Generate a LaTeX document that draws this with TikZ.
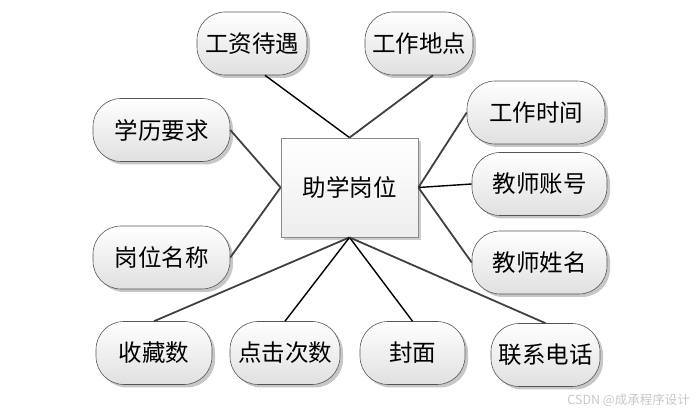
\documentclass[tikz,border=0pt]{standalone}
\usepackage{fontspec}
\setmainfont{Noto Sans CJK SC}
\usepackage{xcolor}
\definecolor{boxline}{HTML}{555555}
\definecolor{boxbot}{HTML}{E0E0E0}
\definecolor{rectline}{HTML}{8A8A8A}
\definecolor{linkgray}{HTML}{404040}
\definecolor{marktext}{HTML}{C8C8C8}
\usepackage{tikz}
\usetikzlibrary{
  shadows,
  calc,
}

\begin{document}
\begin{tikzpicture}[
  x=1pt, y=-1pt,
  attr/.style={
    draw=boxline,
    line width=0.6pt,
    top color=white,
    bottom color=boxbot,
    rounded corners=28pt,
    minimum height=63pt,
    inner sep=0pt,
    font=\fontsize{23.5}{27}\selectfont,
    drop shadow={shadow xshift=3pt, shadow yshift=-3pt, fill=black!22, opacity=1},
  },
  entity/.style={
    draw=rectline,
    line width=0.8pt,
    top color=white,
    bottom color=black!7,
    minimum width=137pt,
    minimum height=99pt,
    inner sep=0pt,
    font=\fontsize{23.5}{27}\selectfont,
    drop shadow={shadow xshift=3pt, shadow yshift=-3pt, fill=black!20, opacity=1},
  },
  link/.style={
    line width=1.4pt,
    draw=black,
  },
  graylink/.style={
    link,
    draw=linkgray,
    line width=1.8pt,
  },
]

\useasboundingbox (0,0) rectangle (697,414);

% --- centre entity ---
\node[entity] (zxgw) at (349.5,187.5) {助学岗位};

% --- attributes, top row ---
\node[attr, minimum width=110pt] (gzdy) at (252,43.5) {工资待遇};
\node[attr, minimum width=108pt] (gzdd) at (419,43.5) {工作地点};

% --- attributes, left side ---
\node[attr, minimum width=137pt] (xlyq) at (161.5,130) {学历要求};
\node[attr, minimum width=137pt] (gwmc) at (161.5,257.5) {岗位名称};

% --- attributes, right side ---
\node[attr, minimum width=138pt] (gzsj) at (536,112.5) {工作时间};
\node[attr, minimum width=135pt] (jszh) at (539.5,184) {教师账号};
\node[attr, minimum width=135pt] (jsxm) at (539.5,262.5) {教师姓名};

% --- attributes, bottom row ---
\node[attr, minimum width=116pt] (scs) at (154,353) {收藏数};
\node[attr, minimum width=110pt] (djcs) at (285,353) {点击次数};
\node[attr, minimum width=105pt] (fm) at (412.5,353) {封面};
\node[attr, minimum width=109pt] (lxdh) at (545.5,355) {联系电话};

% --- connectors ---
\draw[link] ([xshift=13pt]gzdy.south) -- (zxgw.north);
\draw[graylink] ([xshift=14pt]gzdd.south) -- (zxgw.north);
\draw[graylink] (xlyq.east) -- (zxgw.west);
\draw[graylink] (gwmc.east) -- (zxgw.west);
\draw[graylink] (gzsj.west) -- (zxgw.east);
\draw[link] (jszh.west) -- (zxgw.east);
\draw[graylink] (jsxm.west) -- (zxgw.east);
\draw[graylink] (zxgw.south) -- (scs.north);
\draw[link] (zxgw.south) -- (djcs.north);
\draw[link] (zxgw.south) -- (fm.north);
\draw[graylink] (zxgw.south) -- (lxdh.north);

% watermark
\node[anchor=east, text=marktext, font=\fontsize{12.5}{14}\selectfont, inner sep=0pt]
  (mark) at (690,400) {CSDN @成承程序设计};

\end{tikzpicture}
\end{document}
